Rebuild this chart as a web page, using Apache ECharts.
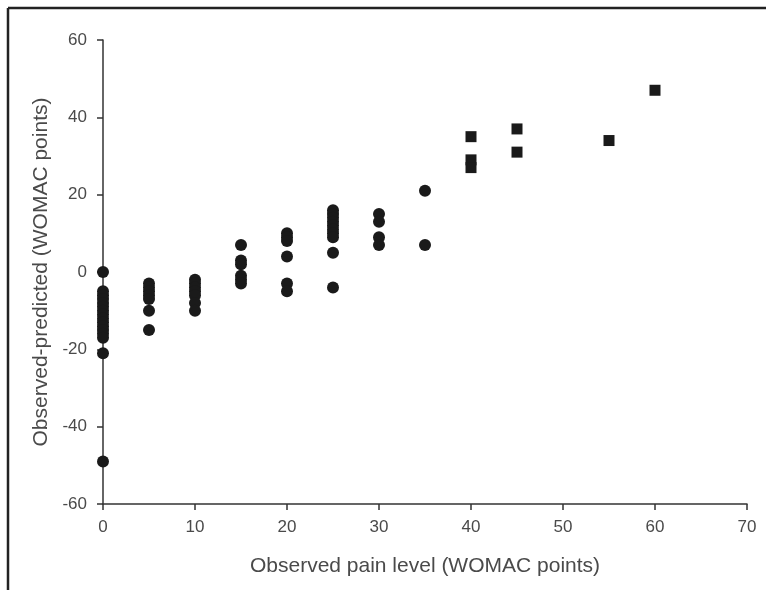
<!DOCTYPE html>
<html><head><meta charset="utf-8">
<script src="https://cdn.jsdelivr.net/npm/echarts@6/dist/echarts.min.js"></script>
<style>html,body{margin:0;padding:0;background:#fff;}#c{width:766px;height:590px;}</style>
</head><body><div id="c"></div>
<script>
// Circle points (observed pain level, observed-predicted)
var circleX = [0,0,0,0,0,0,0,0,0,0,0,0,0,0,0,0,
  5,5,5,5,5,5,5,
  10,10,10,10,10,10,10,
  15,15,15,15,15,15,
  20,20,20,20,20,20,
  25,25,25,25,25,25,25,25,25,25,
  30,30,30,30,
  35,35];
var circleY = [0,-5,-6,-7,-8,-9,-10,-11,-12,-13,-14,-15,-16,-17,-21,-49,
  -3,-4,-5,-6,-7,-10,-15,
  -2,-3,-4,-5,-6,-8,-10,
  7,3,2,-1,-2,-3,
  10,9,8,4,-3,-5,
  16,15,14,13,12,11,10,9,5,-4,
  15,13,9,7,
  21,7];
// Square points
var squareX = [40,40,40,45,45,55,60];
var squareY = [35,29,27,37,31,34,47];
var xTicks = {min:0, max:70, interval:10};
var yTicks = {min:-60, max:60, interval:20};

function pairs(xs, ys){ return xs.map(function(x,i){ return [x, ys[i]]; }); }

var chart = echarts.init(document.getElementById('c'), null, {renderer:'canvas'});
var axisCol = '#333';
var txtCol = '#4a4a4a';
chart.setOption({
  animation:false,
  backgroundColor:'#fff',
  grid:{left:103, right:19, top:40, bottom:86},
  xAxis:{type:'value', min:xTicks.min, max:xTicks.max, interval:xTicks.interval,
    name:'Observed pain level (WOMAC points)', nameLocation:'middle', nameGap:52,
    nameTextStyle:{fontFamily:'Liberation Sans', fontSize:21, color:txtCol},
    axisLine:{onZero:false, lineStyle:{color:axisCol, width:1.5}},
    axisTick:{length:6, lineStyle:{color:axisCol, width:1.5}},
    axisLabel:{margin:15, fontFamily:'Liberation Sans', fontSize:17, color:txtCol},
    splitLine:{show:false}},
  yAxis:{type:'value', min:yTicks.min, max:yTicks.max, interval:yTicks.interval,
    name:'Observed-predicted (WOMAC points)', nameLocation:'middle', nameGap:51,
    nameTextStyle:{fontFamily:'Liberation Sans', fontSize:21, color:txtCol},
    axisLine:{onZero:false, lineStyle:{color:axisCol, width:1.5}},
    axisTick:{length:6, lineStyle:{color:axisCol, width:1.5}},
    axisLabel:{margin:16, fontFamily:'Liberation Sans', fontSize:17, color:txtCol},
    splitLine:{show:false}},
  series:[
    {type:'scatter', symbol:'circle', symbolSize:12, data:pairs(circleX, circleY),
      itemStyle:{color:'#1a1a1a', opacity:1}},
    {type:'scatter', symbol:'rect', symbolSize:11, data:pairs(squareX, squareY),
      itemStyle:{color:'#1a1a1a', opacity:1}}
  ],
  graphic:[
    {type:'line', shape:{x1:8, y1:8, x2:766, y2:8}, style:{stroke:'#222', lineWidth:2.5}},
    {type:'line', shape:{x1:8, y1:8, x2:8, y2:590}, style:{stroke:'#222', lineWidth:2.5}}
  ]
});
</script></body></html>
